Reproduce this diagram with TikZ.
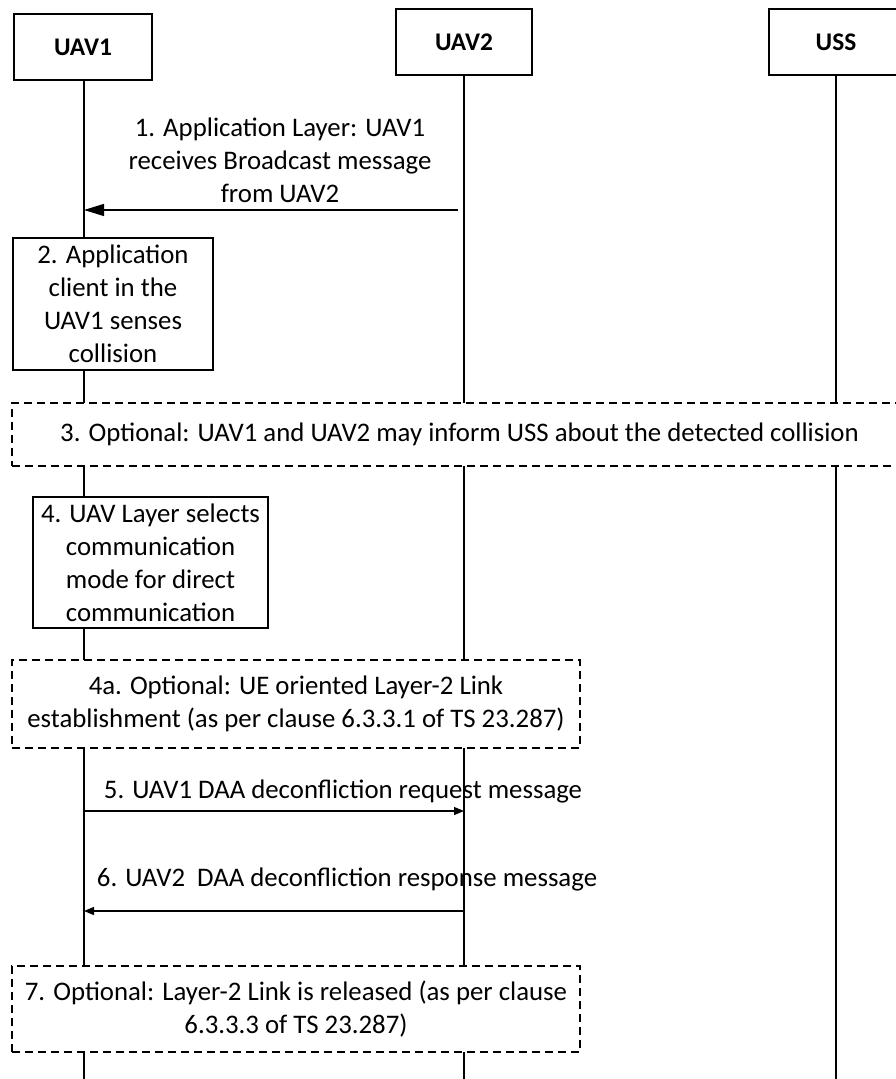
\documentclass[tikz,border=0pt]{standalone}
\usepackage{fontspec}
\setmainfont{Carlito}
\usetikzlibrary{arrows.meta}

\tikzset{
  entity/.style={draw, line width=1.4pt, fill=white, minimum width=68pt, minimum height=33pt,
    font=\bfseries\fontsize{12.7}{14}\selectfont},
  life/.style={line width=0.6pt},
  stepbox/.style={draw, line width=0.6pt, fill=white, align=center, inner sep=0pt,
    font=\fontsize{13.4}{16.5}\selectfont},
  optbox/.style={stepbox, dashed, dash pattern=on 4pt off 2.5pt},
  msgtext/.style={align=center, inner sep=0pt, font=\fontsize{13.4}{16.5}\selectfont},
  bigmsg/.style={line width=0.6pt, -{Triangle[length=10pt,width=6pt]}},
  msg/.style={line width=0.6pt, -{Triangle[length=5pt,width=4pt]}}
}

\begin{document}
\begin{tikzpicture}[x=0.5pt,y=-0.5pt]
  \useasboundingbox (0,0) rectangle (895,1079);

  % participants
  \node[entity, minimum width=69pt] (ua1) at (83,47) {UAV1};
  \node[entity] (ua2) at (464,42) {UAV2};
  \node[entity, minimum width=67pt] (uss) at (836,42) {USS};

  % lifelines
  \coordinate (ua1end) at (84,1079);
  \coordinate (ua2end) at (464,1079);
  \coordinate (ussend) at (836,1079);
  \draw[life] (ua1.south -| ua1end) -- (ua1end);
  \draw[life] (ua2.south) -- (ua2end);
  \draw[life] (uss.south) -- (ussend);

  % step 1
  \node[msgtext] (t1) at (280,160) {1. Application Layer: UAV1\\receives Broadcast message\\from UAV2};
  \coordinate (m1a) at (458,210);
  \coordinate (m1b) at (84,210);
  \draw[bigmsg] (m1a) -- (m1b);

  % steps 2 to 4a
  \node[stepbox, minimum width=100pt, minimum height=66pt] (s2) at (113,304)
    {2. Application\\client in the\\UAV1 senses\\collision};
  \node[optbox, minimum width=447.5pt, minimum height=31.5pt] (s3) at (459.5,434.5)
    {3. Optional: UAV1 and UAV2 may inform USS about the detected collision};
  \node[stepbox, minimum width=117.5pt, minimum height=65.5pt] (s4) at (150.5,562.5)
    {4. UAV Layer selects\\communication\\mode for direct\\communication};
  \node[optbox, minimum width=284pt, minimum height=44pt] (s4a) at (296,704)
    {4a. Optional: UE oriented Layer-2 Link\\establishment (as per clause 6.3.3.1 of TS 23.287)};

  % steps 5 and 6
  \node[msgtext] (t5) at (343,791) {5. UAV1 DAA deconfliction request message};
  \coordinate (m5a) at (84,811);
  \coordinate (m5b) at (464,811);
  \draw[msg] (m5a) -- (m5b);
  \node[msgtext] (t6) at (347,879) {6. UAV2\ \ DAA deconfliction response message};
  \coordinate (m6a) at (464,911);
  \coordinate (m6b) at (84,911);
  \draw[msg] (m6a) -- (m6b);

  % step 7
  \node[optbox, minimum width=284pt, minimum height=43pt] (s7) at (296,1009)
    {7. Optional: Layer-2 Link is released (as per clause\\6.3.3.3 of TS 23.287)};
\end{tikzpicture}
\end{document}
